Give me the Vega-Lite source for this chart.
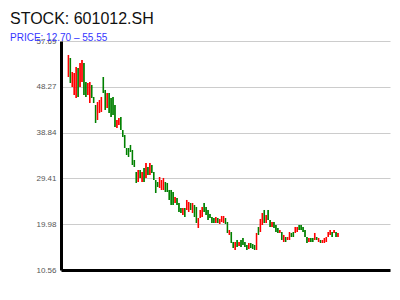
{
 "$schema": "https://vega.github.io/schema/vega-lite/v6.json",
 "width": 329, "height": 229,
 "autosize": {"type": "none"},
 "padding": {"left": 61, "top": 41, "right": 10, "bottom": 30},
 "background": "white",
 "title": {"text": "STOCK: 601012.SH", "subtitle": "PRICE: 12.70 – 55.55", "anchor": "start", "frame": "group", "dx": -51, "offset": -6, "font": "Liberation Sans", "fontSize": 16, "fontWeight": "normal", "color": "#111111", "subtitleFont": "Liberation Sans", "subtitleFontSize": 10, "subtitleColor": "#3535ff", "subtitlePadding": 6},
 "config": {"view": {"stroke": null}},
 "data": {"values": [
{"i":0,"o":50.28,"h":54.81,"l":50.28,"c":54.81},
{"i":1,"o":54.19,"h":54.19,"l":49.05,"c":49.05},
{"i":2,"o":48.22,"h":51.31,"l":48.22,"c":51.31},
{"i":3,"o":46.58,"h":51.10,"l":46.58,"c":51.10},
{"i":4,"o":45.96,"h":52.34,"l":45.96,"c":52.34},
{"i":5,"o":52.13,"h":52.13,"l":46.17,"c":46.17},
{"i":6,"o":48.22,"h":53.16,"l":48.22,"c":53.16},
{"i":7,"o":49.25,"h":53.78,"l":49.25,"c":53.78},
{"i":8,"o":53.16,"h":53.16,"l":46.58,"c":46.58},
{"i":9,"o":49.25,"h":49.25,"l":46.17,"c":46.17},
{"i":10,"o":46.58,"h":49.05,"l":46.58,"c":49.05},
{"i":11,"o":44.93,"h":49.25,"l":44.93,"c":49.25},
{"i":12,"o":48.64,"h":48.64,"l":45.96,"c":45.96},
{"i":13,"o":46.17,"h":46.17,"l":44.93,"c":44.93},
{"i":14,"o":44.52,"h":44.52,"l":40.82,"c":40.82},
{"i":15,"o":41.43,"h":45.14,"l":41.43,"c":45.14},
{"i":16,"o":42.87,"h":45.55,"l":42.87,"c":45.55},
{"i":17,"o":43.08,"h":46.17,"l":43.08,"c":46.17},
{"i":18,"o":50.28,"h":50.28,"l":46.99,"c":46.99},
{"i":19,"o":47.61,"h":47.61,"l":43.49,"c":43.49},
{"i":20,"o":43.90,"h":46.99,"l":43.90,"c":46.99},
{"i":21,"o":46.99,"h":46.99,"l":42.87,"c":42.87},
{"i":22,"o":45.96,"h":45.96,"l":42.05,"c":42.05},
{"i":23,"o":46.17,"h":46.17,"l":42.46,"c":42.46},
{"i":24,"o":44.52,"h":44.52,"l":39.99,"c":39.99},
{"i":25,"o":39.79,"h":41.43,"l":39.79,"c":41.43},
{"i":26,"o":40.40,"h":41.84,"l":40.40,"c":41.84},
{"i":27,"o":42.05,"h":42.05,"l":39.37,"c":39.37},
{"i":28,"o":39.37,"h":39.37,"l":37.93,"c":37.93},
{"i":29,"o":38.35,"h":38.35,"l":35.67,"c":35.67},
{"i":30,"o":35.67,"h":35.67,"l":34.23,"c":34.23},
{"i":31,"o":35.67,"h":35.67,"l":33.82,"c":33.82},
{"i":32,"o":36.29,"h":36.29,"l":34.85,"c":34.85},
{"i":33,"o":35.26,"h":35.26,"l":32.17,"c":32.17},
{"i":34,"o":33.20,"h":33.20,"l":31.76,"c":31.76},
{"i":35,"o":30.73,"h":30.73,"l":28.47,"c":28.47},
{"i":36,"o":28.67,"h":31.14,"l":28.67,"c":31.14},
{"i":37,"o":31.14,"h":31.14,"l":29.50,"c":29.50},
{"i":38,"o":28.67,"h":30.73,"l":28.67,"c":30.73},
{"i":39,"o":31.55,"h":31.55,"l":28.67,"c":28.67},
{"i":40,"o":29.50,"h":32.58,"l":29.50,"c":32.58},
{"i":41,"o":31.76,"h":31.76,"l":30.11,"c":30.11},
{"i":42,"o":30.11,"h":32.58,"l":30.11,"c":32.58},
{"i":43,"o":32.17,"h":32.17,"l":30.52,"c":30.52},
{"i":44,"o":30.73,"h":30.73,"l":29.08,"c":29.08},
{"i":45,"o":29.08,"h":29.08,"l":26.41,"c":26.41},
{"i":46,"o":28.67,"h":28.67,"l":27.64,"c":27.64},
{"i":47,"o":27.44,"h":29.70,"l":27.44,"c":29.70},
{"i":48,"o":27.03,"h":29.08,"l":27.03,"c":29.08},
{"i":49,"o":27.03,"h":29.50,"l":27.03,"c":29.50},
{"i":50,"o":28.67,"h":28.67,"l":26.61,"c":26.61},
{"i":51,"o":28.47,"h":28.47,"l":26.61,"c":26.61},
{"i":52,"o":27.03,"h":27.03,"l":24.97,"c":24.97},
{"i":53,"o":27.03,"h":27.03,"l":23.94,"c":23.94},
{"i":54,"o":26.61,"h":26.61,"l":23.94,"c":23.94},
{"i":55,"o":24.35,"h":25.59,"l":24.35,"c":25.59},
{"i":56,"o":25.38,"h":25.38,"l":23.94,"c":23.94},
{"i":57,"o":24.35,"h":24.35,"l":22.50,"c":22.50},
{"i":58,"o":23.32,"h":23.32,"l":22.29,"c":22.29},
{"i":59,"o":21.88,"h":23.32,"l":21.88,"c":23.32},
{"i":60,"o":23.32,"h":23.32,"l":21.47,"c":21.47},
{"i":61,"o":22.91,"h":24.97,"l":22.91,"c":24.97},
{"i":62,"o":22.50,"h":24.56,"l":22.50,"c":24.56},
{"i":63,"o":24.35,"h":24.35,"l":22.91,"c":22.91},
{"i":64,"o":22.29,"h":24.35,"l":22.29,"c":24.35},
{"i":65,"o":23.94,"h":23.94,"l":21.47,"c":21.47},
{"i":66,"o":23.53,"h":23.53,"l":20.23,"c":20.23},
{"i":67,"o":19.21,"h":21.26,"l":19.21,"c":21.26},
{"i":68,"o":21.26,"h":22.91,"l":21.26,"c":22.91},
{"i":69,"o":21.47,"h":23.53,"l":21.47,"c":23.53},
{"i":70,"o":24.35,"h":24.35,"l":22.50,"c":22.50},
{"i":71,"o":23.53,"h":23.53,"l":21.88,"c":21.88},
{"i":72,"o":22.91,"h":22.91,"l":20.85,"c":20.85},
{"i":73,"o":22.09,"h":22.09,"l":21.26,"c":21.26},
{"i":74,"o":21.47,"h":21.47,"l":20.23,"c":20.23},
{"i":75,"o":21.26,"h":21.26,"l":20.23,"c":20.23},
{"i":76,"o":20.23,"h":21.47,"l":20.23,"c":21.47},
{"i":77,"o":21.26,"h":21.26,"l":20.23,"c":20.23},
{"i":78,"o":20.03,"h":21.06,"l":20.03,"c":21.06},
{"i":79,"o":20.44,"h":21.68,"l":20.44,"c":21.68},
{"i":80,"o":20.23,"h":21.68,"l":20.23,"c":21.68},
{"i":81,"o":21.26,"h":21.26,"l":20.03,"c":20.03},
{"i":82,"o":20.44,"h":20.44,"l":18.18,"c":18.18},
{"i":83,"o":17.77,"h":18.79,"l":17.77,"c":18.79},
{"i":84,"o":18.38,"h":18.38,"l":16.12,"c":16.12},
{"i":85,"o":16.32,"h":16.32,"l":15.09,"c":15.09},
{"i":86,"o":14.68,"h":16.32,"l":14.68,"c":16.32},
{"i":87,"o":16.74,"h":16.74,"l":15.30,"c":15.30},
{"i":88,"o":15.50,"h":16.32,"l":15.50,"c":16.32},
{"i":89,"o":16.74,"h":16.74,"l":15.30,"c":15.30},
{"i":90,"o":17.15,"h":17.15,"l":15.71,"c":15.71},
{"i":91,"o":16.32,"h":16.32,"l":15.30,"c":15.30},
{"i":92,"o":15.71,"h":15.71,"l":14.68,"c":14.68},
{"i":93,"o":14.88,"h":16.12,"l":14.88,"c":16.12},
{"i":94,"o":16.12,"h":16.12,"l":15.09,"c":15.09},
{"i":95,"o":15.91,"h":15.91,"l":14.88,"c":14.88},
{"i":96,"o":15.71,"h":15.71,"l":14.68,"c":14.68},
{"i":97,"o":14.68,"h":18.18,"l":14.68,"c":18.18},
{"i":98,"o":19.41,"h":19.41,"l":17.77,"c":17.77},
{"i":99,"o":18.38,"h":21.06,"l":18.38,"c":21.06},
{"i":100,"o":19.82,"h":22.29,"l":19.82,"c":22.29},
{"i":101,"o":22.91,"h":22.91,"l":20.23,"c":20.23},
{"i":102,"o":20.23,"h":21.88,"l":20.23,"c":21.88},
{"i":103,"o":22.91,"h":22.91,"l":20.85,"c":20.85},
{"i":104,"o":20.85,"h":20.85,"l":19.41,"c":19.41},
{"i":105,"o":19.41,"h":20.44,"l":19.41,"c":20.44},
{"i":106,"o":20.44,"h":20.44,"l":19.21,"c":19.21},
{"i":107,"o":19.82,"h":19.82,"l":18.38,"c":18.38},
{"i":108,"o":19.21,"h":19.21,"l":18.18,"c":18.18},
{"i":109,"o":18.18,"h":18.79,"l":18.18,"c":18.79},
{"i":110,"o":18.38,"h":18.38,"l":16.74,"c":16.74},
{"i":111,"o":16.32,"h":17.77,"l":16.32,"c":17.77},
{"i":112,"o":17.35,"h":17.35,"l":16.32,"c":16.32},
{"i":113,"o":16.74,"h":17.35,"l":16.74,"c":17.35},
{"i":114,"o":16.74,"h":18.38,"l":16.74,"c":18.38},
{"i":115,"o":18.18,"h":18.18,"l":17.35,"c":17.35},
{"i":116,"o":18.38,"h":18.38,"l":17.35,"c":17.35},
{"i":117,"o":18.18,"h":19.41,"l":18.18,"c":19.41},
{"i":118,"o":18.38,"h":19.41,"l":18.38,"c":19.41},
{"i":119,"o":19.82,"h":19.82,"l":18.79,"c":18.79},
{"i":120,"o":19.82,"h":19.82,"l":18.79,"c":18.79},
{"i":121,"o":19.41,"h":19.41,"l":18.38,"c":18.38},
{"i":122,"o":18.79,"h":18.79,"l":17.35,"c":17.35},
{"i":123,"o":17.35,"h":17.35,"l":16.12,"c":16.12},
{"i":124,"o":16.32,"h":17.15,"l":16.32,"c":17.15},
{"i":125,"o":17.15,"h":17.15,"l":16.32,"c":16.32},
{"i":126,"o":17.15,"h":17.15,"l":16.32,"c":16.32},
{"i":127,"o":16.74,"h":18.18,"l":16.74,"c":18.18},
{"i":128,"o":17.35,"h":17.35,"l":16.74,"c":16.74},
{"i":129,"o":16.32,"h":17.15,"l":16.32,"c":17.15},
{"i":130,"o":16.74,"h":16.74,"l":16.12,"c":16.12},
{"i":131,"o":16.12,"h":16.74,"l":16.12,"c":16.74},
{"i":132,"o":16.12,"h":17.15,"l":16.12,"c":17.15},
{"i":133,"o":16.32,"h":17.35,"l":16.32,"c":17.35},
{"i":134,"o":17.35,"h":18.38,"l":17.35,"c":18.38},
{"i":135,"o":17.77,"h":18.79,"l":17.77,"c":18.79},
{"i":136,"o":18.38,"h":18.38,"l":17.35,"c":17.35},
{"i":137,"o":18.18,"h":18.79,"l":18.18,"c":18.79},
{"i":138,"o":18.38,"h":18.38,"l":17.35,"c":17.35},
{"i":139,"o":17.35,"h":18.18,"l":17.35,"c":18.18}
 ]},
 "encoding": {
  "x": {"field": "i", "type": "quantitative", "scale": {"domain": [-1.25, 163.25], "nice": false, "zero": false},
        "axis": {"title": null, "labels": false, "ticks": false, "grid": false, "domainColor": "#000000", "domainWidth": 3}}
 },
 "layer": [
  {"mark": {"type": "rule", "strokeWidth": 1},
   "encoding": {
    "y": {"field": "l", "type": "quantitative", "scale": {"domain": [10.56, 57.69], "nice": false, "zero": false},
          "axis": {"title": null, "values": [10.56, 19.98, 29.41, 38.84, 48.27, 57.69], "format": ".2f", "ticks": false, "labelFont": "Liberation Sans", "labelFontSize": 8, "labelColor": "#555555", "labelPadding": 5, "domainColor": "#000000", "domainWidth": 3, "gridColor": "#cccccc", "gridWidth": 1}},
    "y2": {"field": "h"},
    "color": {"condition": {"test": "datum.c >= datum.o", "value": "#ff0000"}, "value": "#008000"}
   }},
  {"mark": {"type": "bar", "size": 1.5},
   "encoding": {
    "y": {"field": "o", "type": "quantitative"},
    "y2": {"field": "c"},
    "color": {"condition": {"test": "datum.c >= datum.o", "value": "#ff0000"}, "value": "#008000"}
   }}
 ]
}
